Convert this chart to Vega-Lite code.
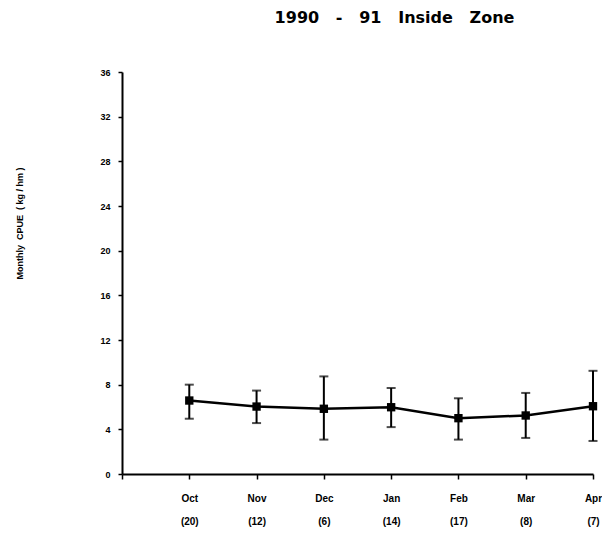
{
  "$schema": "https://vega.github.io/schema/vega-lite/v6.json",
  "autosize": "none",
  "width": 471,
  "height": 402,
  "padding": {"left": 122, "top": 72, "right": 9, "bottom": 59},
  "background": "white",
  "config": {
    "view": {"stroke": null},
    "font": "Liberation Sans",
    "axis": {"grid": false, "domainColor": "black", "domainWidth": 2, "tickColor": "black", "tickWidth": 1.5, "labelColor": "black", "labelFontWeight": "bold", "labelFont": "Liberation Sans", "titleFont": "Liberation Sans"}
  },
  "title": {
    "text": "1990\u00a0\u00a0\u00a0-\u00a0\u00a0\u00a091\u00a0\u00a0\u00a0Inside\u00a0\u00a0\u00a0Zone",
    "fontSize": 16,
    "fontWeight": "bold",
    "font": "DejaVu Sans",
    "color": "black",
    "anchor": "middle",
    "dx": 37,
    "offset": 42
  },
  "data": {
    "values": [
      {"m": 1, "mean": 6.58, "lo": 4.95, "hi": 8.0},
      {"m": 2, "mean": 6.04, "lo": 4.56, "hi": 7.47},
      {"m": 3, "mean": 5.84, "lo": 3.08, "hi": 8.74},
      {"m": 4, "mean": 5.98, "lo": 4.2, "hi": 7.7},
      {"m": 5, "mean": 5.0, "lo": 3.08, "hi": 6.78},
      {"m": 6, "mean": 5.24, "lo": 3.23, "hi": 7.26},
      {"m": 7, "mean": 6.07, "lo": 2.96, "hi": 9.24}
    ]
  },
  "encoding": {
    "x": {
      "field": "m",
      "type": "quantitative",
      "scale": {"domain": [0, 7], "nice": false, "zero": false},
      "axis": {
        "title": null,
        "values": [0, 1, 2, 3, 4, 5, 6, 7],
        "tickSize": 5,
        "labelPadding": 14,
        "labelFontSize": 10,
        "labelBaseline": "top",
        "labelLineHeight": 23,
        "labelFlush": false,
        "labelOverlap": false,
        "labelExpr": "datum.value == 1 ? ['Oct','(20)'] : datum.value == 2 ? ['Nov','(12)'] : datum.value == 3 ? ['Dec','(6)'] : datum.value == 4 ? ['Jan','(14)'] : datum.value == 5 ? ['Feb','(17)'] : datum.value == 6 ? ['Mar','(8)'] : datum.value == 7 ? ['Apr','(7)'] : ''"
      }
    }
  },
  "layer": [
    {
      "mark": {"type": "rule", "color": "black", "strokeWidth": 2},
      "encoding": {
        "y": {
          "field": "lo",
          "type": "quantitative",
          "scale": {"domain": [0, 36], "nice": false},
          "axis": {
            "title": "Monthly\u00a0\u00a0CPUE\u00a0\u00a0(\u00a0kg\u00a0/\u00a0hm\u00a0)",
            "titleFontSize": 9,
            "titleFontWeight": "bold",
            "titleColor": "black",
            "titleAngle": -90,
            "titleX": -103,
            "titleY": 151,
            "titleAlign": "center",
            "titleBaseline": "middle",
            "values": [0, 2, 4, 6, 8, 10, 12, 14, 16, 18, 20, 22, 24, 26, 28, 30, 32, 34, 36],
            "labelExpr": "datum.value % 4 == 0 ? datum.label : ''",
            "tickSize": 4,
            "labelPadding": 8,
            "labelFontSize": 9
          }
        },
        "y2": {"field": "hi"}
      }
    },
    {
      "mark": {"type": "tick", "color": "black", "orient": "horizontal", "size": 9, "thickness": 2},
      "encoding": {"y": {"field": "lo", "type": "quantitative"}}
    },
    {
      "mark": {"type": "tick", "color": "black", "orient": "horizontal", "size": 9, "thickness": 2},
      "encoding": {"y": {"field": "hi", "type": "quantitative"}}
    },
    {
      "mark": {"type": "line", "color": "black", "strokeWidth": 2.5},
      "encoding": {"y": {"field": "mean", "type": "quantitative"}}
    },
    {
      "mark": {"type": "point", "shape": "square", "filled": true, "color": "black", "opacity": 1, "size": 70},
      "encoding": {"y": {"field": "mean", "type": "quantitative"}}
    }
  ]
}
